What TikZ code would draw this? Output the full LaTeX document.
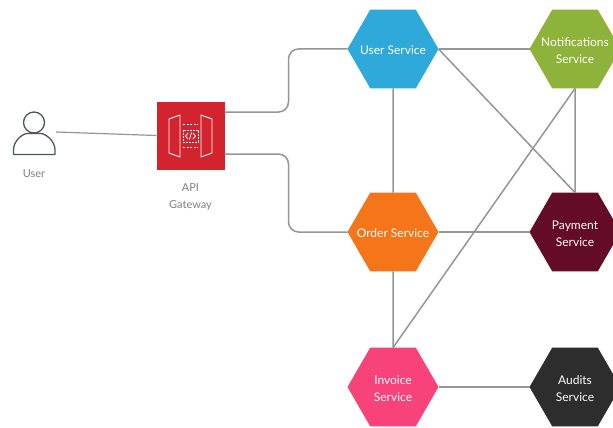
\documentclass[tikz,border=0pt]{standalone}
\usepackage{fontspec}
\setmainfont{Lato}
\usetikzlibrary{shapes.geometric}
\definecolor{cblue}{HTML}{2FA9D9}
\definecolor{cgreen}{HTML}{8DB33A}
\definecolor{corange}{HTML}{F5761A}
\definecolor{cwine}{HTML}{640B28}
\definecolor{cpink}{HTML}{F8427A}
\definecolor{cdark}{HTML}{2D2D2D}
\definecolor{cred}{HTML}{D2232F}
\definecolor{cline}{HTML}{969696}
\definecolor{clabel}{HTML}{808080}
\definecolor{cicon}{HTML}{4F5560}
\newcommand\hxlines[1]{\raisebox{0pt}[\dimexpr\height+5pt\relax][\depth]{\begin{tabular}{@{}c@{}}#1\end{tabular}}}
\tikzset{
  hexa/.style={regular polygon,regular polygon sides=6,minimum size=91pt,inner sep=-40pt,outer sep=0pt,
    text=white,font=\fontsize{12}{17}\selectfont},
  link/.style={draw=cline,line width=1.5pt},
  lab/.style={text=clabel,font=\fontsize{11}{17}\selectfont,align=center},
  gwline/.style={draw=white,line width=0.9pt,line join=round}
}
\begin{document}
\begin{tikzpicture}[x=1pt,y=-1pt]
\useasboundingbox (0,0) rectangle (613,428);
\fill[white] (0,0) rectangle (613,428);
% nodes
\node[hexa,fill=cblue] (us) at (393,49) {\hxlines{User Service}};
\node[hexa,fill=cgreen] (ns) at (575,49) {\hxlines{Notifications\\Service}};
\node[hexa,fill=corange] (os) at (393,232) {\hxlines{Order Service}};
\node[hexa,fill=cwine] (ps) at (575,232) {\hxlines{Payment\\Service}};
\node[hexa,fill=cpink] (is) at (393,387) {\hxlines{Invoice\\Service}};
\node[hexa,fill=cdark] (as) at (575,387) {\hxlines{Audits\\Service}};
\node[fill=cred,minimum size=68pt,inner sep=0pt,outer sep=0pt] (gw) at (190.5,135.5) {};
\node[lab] (userlab) at (34,174) {User};
\node[lab] (gwlab) at (190.5,197) {API\\Gateway};
\coordinate (userport) at (56,132);
% connectors
\draw[link,line width=1.2pt] (userport) -- (gw.west);
\draw[link,rounded corners=10pt] ([yshift=23.5pt]gw.east) -- ++(64,0) |- (us.west);
\draw[link,rounded corners=10pt] ([yshift=-18.5pt]gw.east) -- ++(64,0) |- (os.west);
\draw[link] (us.east) -- (ns.west);
\draw[link] (os.east) -- (ps.west);
\draw[link] (is.east) -- (as.west);
\draw[link] (us.south) -- (os.north);
\draw[link] (os.south) -- (is.north);
\draw[link] (ns.south) -- (ps.north);
\draw[link] (us.east) -- (ps.north);
\draw[link] (ns.south) -- (is.north);
% user icon
\draw[cicon,line width=1.3pt] (34,122.5) circle (10.5pt);
\draw[cicon,line width=1.3pt,line join=round] (13.5,154.5) -- (13.5,150) .. controls (13.5,141) and (22,134) .. (27,133.5)
  -- (41,133.5) .. controls (46,134) and (55,141) .. (55,150) -- (55,154.5) -- cycle;
% gateway icon
\draw[gwline] (169,119) -- (180,115) -- (180,157) -- (169,153) -- cycle;
\draw[gwline] (212,119) -- (201,115) -- (201,157) -- (212,153) -- cycle;
\draw[gwline,dash pattern=on 2pt off 1.5pt] (183,124.5) -- (198,124.5);
\draw[gwline,dash pattern=on 2pt off 1.5pt] (183,147) -- (198,147);
\draw[gwline,dash pattern=on 2pt off 1pt] (183,130) rectangle (198,142);
\draw[white,line width=0.8pt] (188,133) -- (185.5,136) -- (188,139) (193,133) -- (195.5,136) -- (193,139) (191.5,132.5) -- (189.5,139.5);
\end{tikzpicture}
\end{document}
